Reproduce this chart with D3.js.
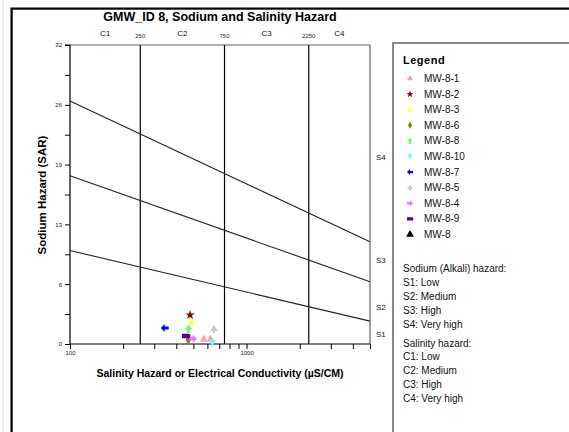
<!DOCTYPE html>
<html><head><meta charset="utf-8">
<script src="https://cdn.jsdelivr.net/npm/d3@7"></script>
<style>body{margin:0;background:#fff;}svg{display:block;font-family:"Liberation Sans",Arial,sans-serif;}</style>
</head><body><svg id="c" width="569" height="432"></svg>
<script>
// ---- data ----
const seriesNames = ["MW-8-1","MW-8-2","MW-8-3","MW-8-6","MW-8-8","MW-8-10","MW-8-7","MW-8-5","MW-8-4","MW-8-9","MW-8"];
const seriesColors = ["#ff9f9f","#8b0000","#ffff55","#808000","#66ff66","#66ffff","#0000ff","#c8c8c8","#ff66ff","#5a0090","#000000"];
const seriesShapes = ["triangle","star","star","diamond","arrowUp","triDown","arrowLeft","club","arrowRight","bar","triangle"];
const ecValues  = [[573,625],[479],[485],[468],[468],[640],[344],[653],[496],[454],[]];
const sarValues = [[0.5,0.5],[3.1],[2.3],[0.45],[1.6],[0.1],[1.7],[1.6],[0.55],[0.85],[]];
const boundaryEC = [100, 5000];
const boundarySAR = [[10.0, 2.45],[18.0, 6.67],[26.0, 10.94]];
const classEC = [250, 750, 2250];
const classLabels = ["C1","C2","C3","C4"];
const classLabelEC = [158, 433, 1299, 3354];
const sodiumLabels = ["S1","S2","S3","S4"];
const sodiumLabelSAR = [1.1, 4.0, 9.0, 20.0];
const yTicks = [0,3.2,6.4,9.6,12.8,16,19.2,22.4,25.6,28.8,32];
const yTickLabels = ["0","","6","","13","","19","","26","","32"];
const xTicks = [100,200,300,400,500,600,700,800,900,1000,2000,3000,4000,5000];
const xTickLabels = {100:"100",1000:"1000"};
const sodiumText = ["Sodium (Alkali) hazard:","S1: Low","S2: Medium","S3: High","S4: Very high"];
const salinityText = ["Salinity hazard:","C1: Low","C2: Medium","C3: High","C4: Very high"];

// ---- layout ----
const svg = d3.select("#c");
const L=70, R=370, T=45, B=344;
const x = d3.scaleLog().domain([100,5000]).range([L,R]);
const y = d3.scaleLinear().domain([0,32]).range([B,T]);

// outer frame
svg.append("line").attr("x1",3).attr("x2",3).attr("y1",0).attr("y2",432).attr("stroke","#ddd").attr("stroke-width",1);
svg.append("rect").attr("x",12.5).attr("y",9.5).attr("width",600).attr("height",500)
  .attr("fill","none").attr("stroke","#999").attr("stroke-width",1);
svg.append("rect").attr("x",11.5).attr("y",8.5).attr("width",600).attr("height",500)
  .attr("fill","none").attr("stroke","#000").attr("stroke-width",2);

// title
svg.append("text").attr("x",220).attr("y",21).attr("text-anchor","middle")
  .attr("font-weight","bold").attr("font-size",12.5).text("GMW_ID 8, Sodium and Salinity Hazard");

// plot border top/right
svg.append("path").attr("d",`M${L},${T}H${R}V${B}`).attr("fill","none").attr("stroke","#666").attr("stroke-width",1.2);

// class vertical lines
svg.append("g").selectAll("line").data(classEC).join("line")
  .attr("x1",d=>x(d)).attr("x2",d=>x(d)).attr("y1",T).attr("y2",B)
  .attr("stroke","#000").attr("stroke-width",1.2);
svg.append("g").selectAll("text").data(classEC).join("text")
  .attr("x",d=>x(d)).attr("y",38).attr("text-anchor","middle").attr("font-size",6).attr("fill","#222").text(d=>d);
svg.append("g").selectAll("text").data(classLabels).join("text")
  .attr("x",(d,i)=>x(classLabelEC[i])).attr("y",36).attr("text-anchor","middle").attr("font-size",8).attr("fill","#111").text(d=>d);

// boundary lines
const lineGen = d3.line().x(d=>x(d[0])).y(d=>y(d[1]));
svg.append("g").selectAll("path").data(boundarySAR).join("path")
  .attr("d",d=>lineGen(boundaryEC.map((e,i)=>[e,d[i]])))
  .attr("fill","none").attr("stroke","#222").attr("stroke-width",1.1);

// S labels
svg.append("g").selectAll("text").data(sodiumLabels).join("text")
  .attr("x",376).attr("y",(d,i)=>y(sodiumLabelSAR[i])+3).attr("font-size",8).attr("fill","#111").text(d=>d);

// y axis
const yAxis = d3.axisLeft(y).tickValues(yTicks).tickSize(5).tickFormat((d,i)=>yTickLabels[i]);
const gy = svg.append("g").attr("transform",`translate(${L},0)`).call(yAxis);
gy.select(".domain").attr("stroke","#000").attr("stroke-width",1.2).attr("d",`M-5,${T}H0V${B}`);
gy.selectAll(".tick line").attr("stroke","#000");
gy.selectAll(".tick text").attr("font-size",6).attr("font-family","Liberation Sans, Arial").attr("fill","#222").attr("x",-8);

// x axis
const xAxis = d3.axisBottom(x).tickValues(xTicks).tickSize(5).tickFormat(d=>xTickLabels[d]||"");
const gx = svg.append("g").attr("transform",`translate(0,${B})`).call(xAxis);
gx.select(".domain").attr("stroke","#000").attr("stroke-width",1.2).attr("d",`M${L},0H${R}`);
gx.selectAll(".tick line").attr("stroke","#000");
gx.selectAll(".tick text").attr("font-size",6).attr("font-family","Liberation Sans, Arial").attr("fill","#222").attr("y",7);

// axis titles
svg.append("text").attr("x",220).attr("y",377).attr("text-anchor","middle").attr("font-weight","bold")
  .attr("font-size",10.5).text("Salinity Hazard or Electrical Conductivity (\u00b5S/CM)");
svg.append("text").attr("transform","translate(46,195) rotate(-90)").attr("text-anchor","middle")
  .attr("font-weight","bold").attr("font-size",11.5).text("Sodium Hazard (SAR)");

// marker shapes
function shapePath(s){
  switch(s){
    case "triangle": return d3.symbol(d3.symbolTriangle,28)();
    case "star": return d3.symbol(d3.symbolStar,28)();
    case "diamond": return d3.symbol(d3.symbolDiamond,26)();
    case "triDown": return "M-3.5,-3L3.5,-3L0,3.5Z";
    case "arrowRight": return "M4,0L0,-4L0,-1.5L-4,-1.5L-4,1.5L0,1.5L0,4Z";
    case "arrowLeft": return "M-4,0L0,-4L0,-1.5L4,-1.5L4,1.5L0,1.5L0,4Z";
    case "arrowUp": return "M0,-4L-4,0L-1.5,0L-1.5,4L1.5,4L1.5,0L4,0Z";
    case "club": return "M0,-4L-4,2L-1,2L-1,4L1,4L1,2L4,2Z";
    case "bar": return "M-4,-2.2H3A1.5,2.2 0 0 1 3,2.2H-4Z";
  }
}
const pts = [];
seriesNames.forEach((n,i)=>ecValues[i].forEach((e,j)=>pts.push({e, s:sarValues[i][j], i})));
svg.append("g").selectAll("path").data(pts).join("path")
  .attr("transform",d=>`translate(${x(d.e)},${y(d.s)})`)
  .attr("d",d=>shapePath(seriesShapes[d.i])).attr("fill",d=>seriesColors[d.i]);

// legend box
svg.append("path").attr("d","M393,440V43H575").attr("fill","none").attr("stroke","#888").attr("stroke-width",2);
svg.append("text").attr("x",403).attr("y",64).attr("font-weight","bold").attr("font-size",11).attr("letter-spacing",0.5).text("Legend");
const lg = svg.append("g").selectAll("g").data(seriesNames).join("g")
  .attr("transform",(d,i)=>`translate(410,${78.5+i*15.6})`);
lg.append("path").attr("d",(d,i)=>{
    const s=seriesShapes[i];
    return s==="triangle"&&i===seriesNames.length-1 ? d3.symbol(d3.symbolTriangle,48)() : shapePath(s);
  }).attr("fill",(d,i)=>seriesColors[i]).attr("transform","scale(0.75)");
lg.append("text").attr("x",14).attr("y",3.5).attr("font-size",10).attr("fill","#111").text(d=>d);

svg.append("g").selectAll("text").data(sodiumText).join("text")
  .attr("x",403).attr("y",(d,i)=>272+i*14).attr("font-size",10).attr("fill","#111").text(d=>d);
svg.append("g").selectAll("text").data(salinityText).join("text")
  .attr("x",403).attr("y",(d,i)=>346.5+i*13.8).attr("font-size",10).attr("fill","#111").text(d=>d);
</script></body></html>
